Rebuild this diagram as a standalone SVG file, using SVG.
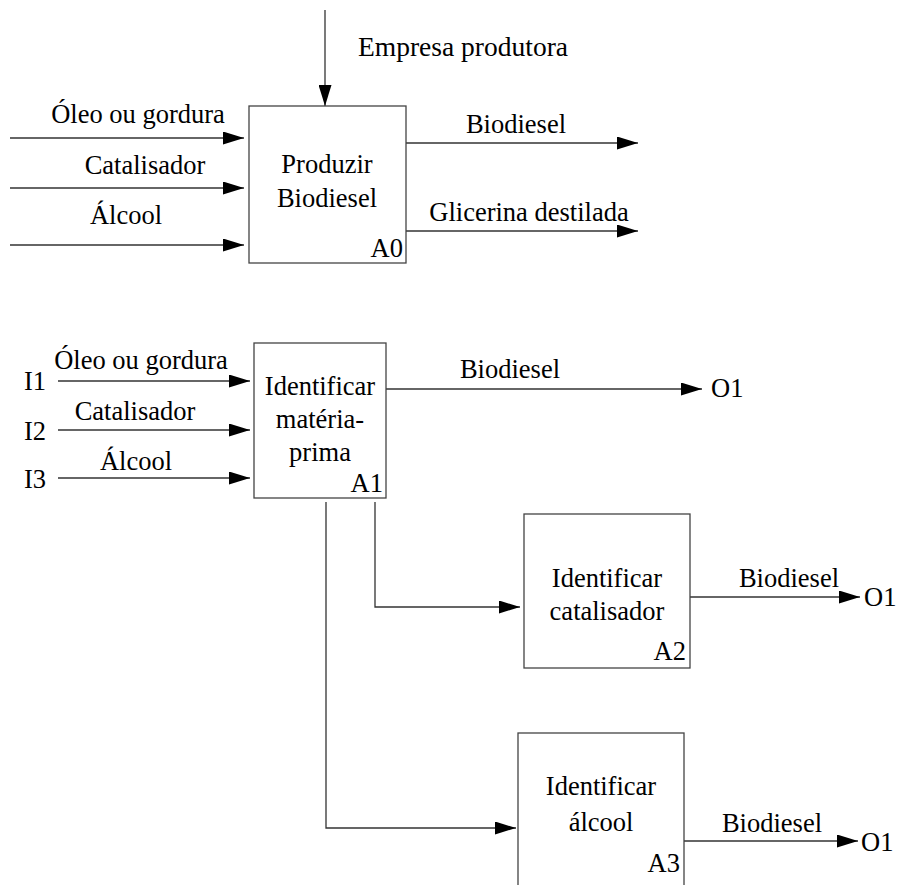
<svg xmlns="http://www.w3.org/2000/svg" width="906" height="885" viewBox="0 0 906 885" font-family="'Liberation Serif', 'Times New Roman', Times, 'DejaVu Serif', serif">
<defs>
<marker id="ah" viewBox="0 0 21 13" refX="21" refY="6.5" markerWidth="21" markerHeight="13" markerUnits="userSpaceOnUse" orient="auto">
<path d="M0,0 L21,6.5 L0,13 Z" fill="#000"/>
</marker>
</defs>
<style>
text{font-family:'Liberation Serif','Times New Roman',Times,serif;font-size:26.5px;fill:#000}
.m{text-anchor:middle}
.e{text-anchor:end}
.box{fill:#fff;stroke:#444;stroke-width:1.3}
.a{fill:none;stroke:#333;stroke-width:1.3;marker-end:url(#ah)}
</style>
<rect width="906" height="885" fill="#fff"/>

<g id="connectors">
<line class="a" x1="325" y1="10" x2="325" y2="106"/>
<line class="a" x1="10" y1="138" x2="244" y2="138"/>
<line class="a" x1="10" y1="188" x2="244" y2="188"/>
<line class="a" x1="10" y1="245" x2="244" y2="245"/>
<line class="a" x1="406" y1="143" x2="638" y2="143"/>
<line class="a" x1="406" y1="231" x2="638" y2="231"/>

<line class="a" x1="58" y1="381" x2="250" y2="381"/>
<line class="a" x1="58" y1="430" x2="250" y2="430"/>
<line class="a" x1="58" y1="478" x2="250" y2="478"/>
<line class="a" x1="386" y1="389" x2="702" y2="389"/>
<polyline class="a" points="375,502 375,607 520,607"/>
<polyline class="a" points="326,502 326,828 516,828"/>
<line class="a" x1="690" y1="597" x2="860" y2="597"/>
<line class="a" x1="684" y1="841" x2="858" y2="841"/>
</g>

<g id="labels">
<text x="358" y="56" style="font-size:27.5px">Empresa produtora</text>
<text x="138" y="123" class="m">Óleo ou gordura</text>
<text x="145" y="174" class="m">Catalisador</text>
<text x="126" y="224" class="m">Álcool</text>
<text x="516" y="133" class="m">Biodiesel</text>
<text x="529" y="221" class="m">Glicerina destilada</text>

<text x="24" y="390">I1</text>
<text x="24" y="440">I2</text>
<text x="24" y="488">I3</text>
<text x="141" y="369" class="m">Óleo ou gordura</text>
<text x="135" y="420" class="m">Catalisador</text>
<text x="136" y="470" class="m">Álcool</text>
<text x="510" y="378" class="m">Biodiesel</text>
<text x="711" y="397">O1</text>
<text x="789" y="587" class="m">Biodiesel</text>
<text x="864" y="606">O1</text>
<text x="772" y="832" class="m">Biodiesel</text>
<text x="861" y="851">O1</text>
</g>

<g id="A0">
<rect class="box" x="249" y="106" width="157" height="157"/>
<text x="327" y="173" class="m">Produzir</text>
<text x="327" y="207" class="m">Biodiesel</text>
<text x="403" y="257" class="e">A0</text>
</g>

<g id="A1">
<rect class="box" x="254" y="343" width="132" height="155"/>
<text x="320" y="395" class="m">Identificar</text>
<text x="320" y="428" class="m">matéria-</text>
<text x="320" y="461" class="m">prima</text>
<text x="383" y="492" class="e">A1</text>
</g>

<g id="A2">
<rect class="box" x="524" y="514" width="166" height="154"/>
<text x="607" y="587" class="m">Identificar</text>
<text x="607" y="620" class="m">catalisador</text>
<text x="686" y="660" class="e">A2</text>
</g>

<g id="A3">
<rect class="box" x="518" y="733" width="166" height="160"/>
<text x="601" y="795" class="m">Identificar</text>
<text x="601" y="831" class="m">álcool</text>
<text x="680" y="872" class="e">A3</text>
</g>
</svg>
